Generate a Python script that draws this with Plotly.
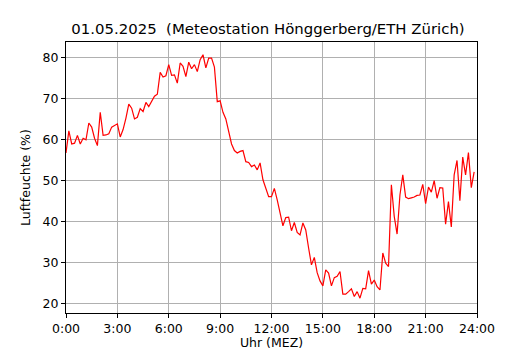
import plotly.graph_objects as go

# Relative humidity every 10 minutes, 0:00 .. 23:50
humidity = [
    56.7, 62.1, 58.9, 59.1, 61.0, 58.9, 60.3, 59.9, 64.0, 63.0,
    60.3, 58.5, 66.6, 61.0, 61.1, 61.4, 63.0, 63.4, 63.8, 60.6,
    62.4, 65.2, 68.6, 67.6, 65.0, 65.4, 67.5, 66.8, 69.0, 68.0,
    69.4, 70.5, 71.0, 76.3, 75.2, 75.5, 78.2, 75.6, 75.7, 73.7,
    78.6, 77.8, 75.3, 78.8, 77.2, 78.2, 76.5, 79.4, 80.6, 77.4,
    79.8, 79.8, 77.6, 69.2, 69.4, 66.6, 65.0, 62.0, 58.9, 57.3,
    56.7, 57.1, 57.3, 54.6, 54.4, 53.4, 53.8, 52.6, 54.3, 50.2,
    48.2, 46.1, 46.1, 48.1, 45.3, 42.5, 39.0, 41.0, 41.1, 37.8,
    39.8, 37.4, 36.8, 39.7, 38.0, 33.6, 29.5, 31.3, 27.6, 25.6,
    24.4, 28.3, 27.5, 24.4, 26.4, 26.7, 27.9, 22.4, 22.4, 23.0,
    23.7, 21.8, 23.0, 21.4, 23.8, 23.7, 28.1, 24.8, 25.8, 24.2,
    23.4, 32.4, 29.9, 29.1, 49.0, 41.3, 37.0, 46.5, 51.4, 46.0,
    45.6, 45.8, 46.0, 46.4, 46.5, 49.1, 44.4, 48.4, 47.2, 50.0,
    45.7, 48.3, 48.2, 39.4, 44.9, 38.7, 51.4, 54.9, 45.1, 55.7,
    51.4, 56.8, 48.3, 52.1,
]
hours = [i / 6 for i in range(len(humidity))]

x_tick_vals = [0, 3, 6, 9, 12, 15, 18, 21, 24]
x_tick_text = ["0:00", "3:00", "6:00", "9:00", "12:00", "15:00", "18:00", "21:00", "24:00"]
y_tick_vals = [20, 30, 40, 50, 60, 70, 80]

title_text = "01.05.2025  (Meteostation Hönggerberg/ETH Zürich)"

fig = go.Figure()
fig.add_trace(go.Scatter(
    x=hours, y=humidity, mode="lines",
    line=dict(color="#ff0000", width=1.2),
    showlegend=False, hoverinfo="skip",
))

# page has an 8px body margin, so the figure is drawn at (8, 8)
W, H = 522, 342
font_family = "DejaVu Sans"
fig.update_layout(
    width=W, height=H,
    margin=dict(l=58, r=53, t=34, b=37),
    paper_bgcolor="white", plot_bgcolor="white",
    font=dict(family=font_family, size=12.5, color="black"),
    title=dict(text=title_text, x=260 / W, xanchor="center",
               y=1 - 21 / H, yanchor="middle",
               font=dict(family=font_family, size=14.9, color="black")),
)
axis_common = dict(
    showline=True, linecolor="black", linewidth=1, mirror=True,
    ticks="outside", ticklen=4, tickwidth=1, tickcolor="black",
    showgrid=True, gridcolor="#b0b0b0", gridwidth=1, zeroline=False,
    automargin=False,
    tickfont=dict(family=font_family, size=12.5, color="black"),
)
fig.update_xaxes(range=[0, 24], tickvals=x_tick_vals, ticktext=x_tick_text,
                 title=dict(text="Uhr (MEZ)", standoff=6,
                            font=dict(family=font_family, size=12.5)),
                 **axis_common)
fig.update_yaxes(range=[17.8, 83.7], tickvals=y_tick_vals,
                 title=dict(text="Luftfeuchte (%)", standoff=9,
                            font=dict(family=font_family, size=12.5)),
                 **axis_common)

fig.write_html("out.html")
